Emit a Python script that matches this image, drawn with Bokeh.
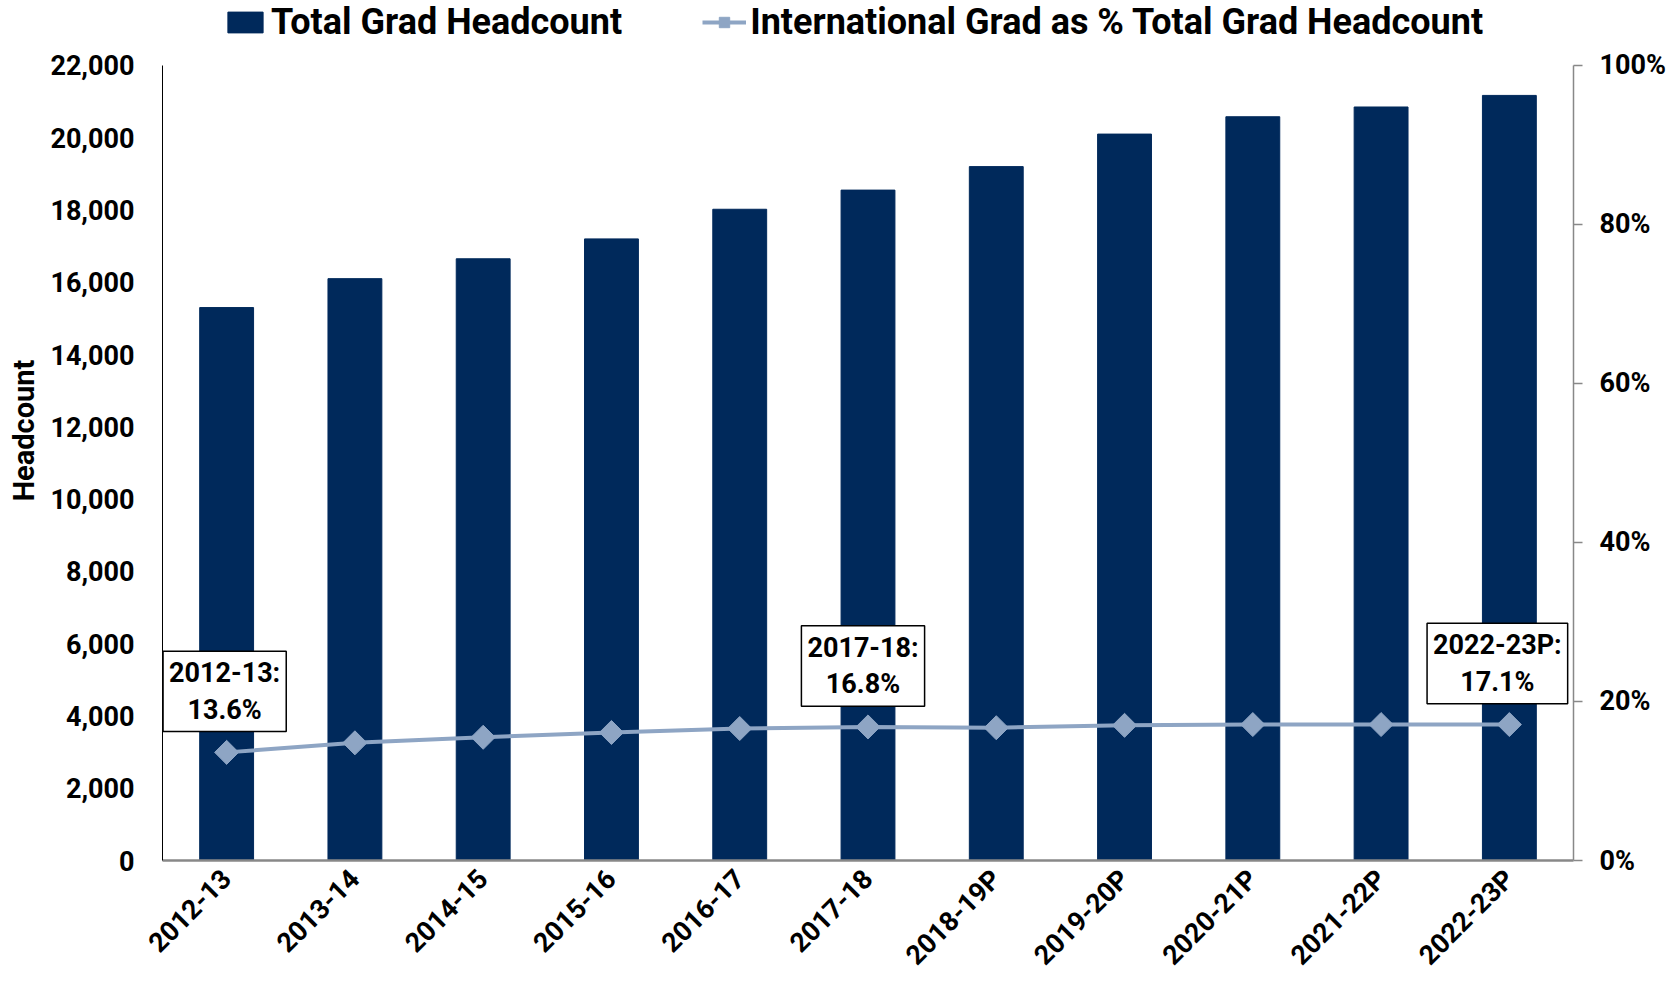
import numpy as np
from bokeh.plotting import figure
from bokeh.models import (Range1d, LinearAxis, FixedTicker, NumeralTickFormatter,
                          PrintfTickFormatter, Legend, LegendItem, ColumnDataSource)
from bokeh.core.properties import value
from bokeh.embed import file_html
from bokeh.resources import INLINE

years = ["2012-13", "2013-14", "2014-15", "2015-16", "2016-17", "2017-18",
         "2018-19P", "2019-20P", "2020-21P", "2021-22P", "2022-23P"]
headcount = [15300, 16100, 16650, 17200, 18020, 18550, 19200, 20100, 20580, 20850, 21170]
intl_pct = [13.6, 14.8, 15.5, 16.1, 16.6, 16.8, 16.7, 17.0, 17.1, 17.1, 17.1]
callout_years = ["2012-13", "2017-18", "2022-23P"]
left_ticks = list(range(0, 22001, 2000))
right_ticks = [0, 20, 40, 60, 80, 100]

FONT = "Roboto"
NAVY = "#00295B"
STEEL = "#8EA5C4"

# layout: frame spans the full top so the legend fits inside it;
# axis values end 65 px below the frame top
FRAME_H = 861
AXIS_TOP = 65
stretch = FRAME_H / (FRAME_H - AXIS_TOP)
left_max = max(left_ticks)
right_max = max(right_ticks)

p = figure(x_range=years, y_range=Range1d(0, left_max * stretch), width=1670, height=985,
           output_backend="svg", toolbar_location=None,
           min_border_left=162, min_border_right=97, min_border_top=0, min_border_bottom=124)
p.x_range.range_padding = 0
p.extra_y_ranges = {"pct": Range1d(0, right_max * stretch)}
p.xgrid.visible = False
p.ygrid.visible = False
p.outline_line_color = None

bars = p.vbar(x=years, top=headcount, width=0.42, color=NAVY)
src = ColumnDataSource(dict(x=years, y=intl_pct))
line = p.line("x", "y", source=src, y_range_name="pct", line_color=STEEL, line_width=4)
pts = p.scatter("x", "y", source=src, y_range_name="pct", marker="square", size=17,
                angle=np.pi / 4, fill_color=STEEL, line_color=STEEL)

# callouts
cx, cy, ct = [], [], []
for yr in callout_years:
    i = years.index(yr)
    cx.append(yr)
    cy.append(intl_pct[i])
    ct.append(f"{yr}:\n{intl_pct[i]:.1f}%")
csrc = ColumnDataSource(dict(x=cx, y=cy, t=ct, dx=[-2, -5, -12]))
p.text(x="x", y="y", text="t", source=csrc, y_range_name="pct", x_offset="dx", y_offset=-61,
       text_align="center", text_baseline="middle",
       text_font=value(FONT), text_font_style="bold", text_font_size="27px",
       text_line_height=1.14, text_color="black",
       background_fill_color="white", border_line_color="black", border_line_width=1.5,
       padding=6)

# left axis
ax = p.yaxis[0]
ax.ticker = FixedTicker(ticks=left_ticks)
ax.formatter = NumeralTickFormatter(format="0,0")
ax.bounds = (0, left_max)
ax.axis_label = "Headcount"
ax.axis_label_text_font = FONT
ax.axis_label_text_font_style = "bold"
ax.axis_label_text_font_size = "29px"
ax.axis_label_text_color = "black"
ax.axis_label_standoff = 6
ax.major_label_text_font = FONT
ax.major_label_text_font_style = "bold"
ax.major_label_text_font_size = "27px"
ax.major_label_text_color = "black"
ax.major_label_standoff = 22
ax.major_tick_line_color = None
ax.minor_tick_line_color = None
ax.axis_line_color = "black"
ax.axis_line_width = 1

# right axis
rax = LinearAxis(y_range_name="pct", ticker=FixedTicker(ticks=right_ticks),
                 formatter=PrintfTickFormatter(format="%d%%"), bounds=(0, right_max))
rax.major_label_text_font = FONT
rax.major_label_text_font_style = "bold"
rax.major_label_text_font_size = "27px"
rax.major_label_text_color = "black"
rax.major_label_standoff = 17
rax.major_tick_in = 0
rax.major_tick_out = 9
rax.major_tick_line_color = "#888888"
rax.major_tick_line_width = 1.5
rax.minor_tick_line_color = None
rax.axis_line_color = "#888888"
rax.axis_line_width = 1.5
p.add_layout(rax, "right")

# bottom axis
xa = p.xaxis[0]
xa.major_label_orientation = np.pi / 4
xa.major_label_text_font = FONT
xa.major_label_text_font_style = "bold"
xa.major_label_text_font_size = "27px"
xa.major_label_text_color = "black"
xa.major_label_standoff = 8
xa.major_tick_line_color = None
xa.minor_tick_line_color = None
xa.axis_line_color = "#888888"
xa.axis_line_width = 2.5

legend = Legend(items=[LegendItem(label="Total Grad Headcount", renderers=[bars]),
                       LegendItem(label="International Grad as % Total Grad Headcount",
                                  renderers=[line, pts])],
                orientation="horizontal", location=(61, FRAME_H - 44),
                label_text_font=FONT, label_text_font_style="bold",
                label_text_font_size="36px", label_text_color="black",
                glyph_width=44, glyph_height=26, label_standoff=4, spacing=80,
                padding=0, margin=0, border_line_color=None, background_fill_alpha=0)
p.add_layout(legend, "center")

open("out.html", "w").write(file_html(p, INLINE))
